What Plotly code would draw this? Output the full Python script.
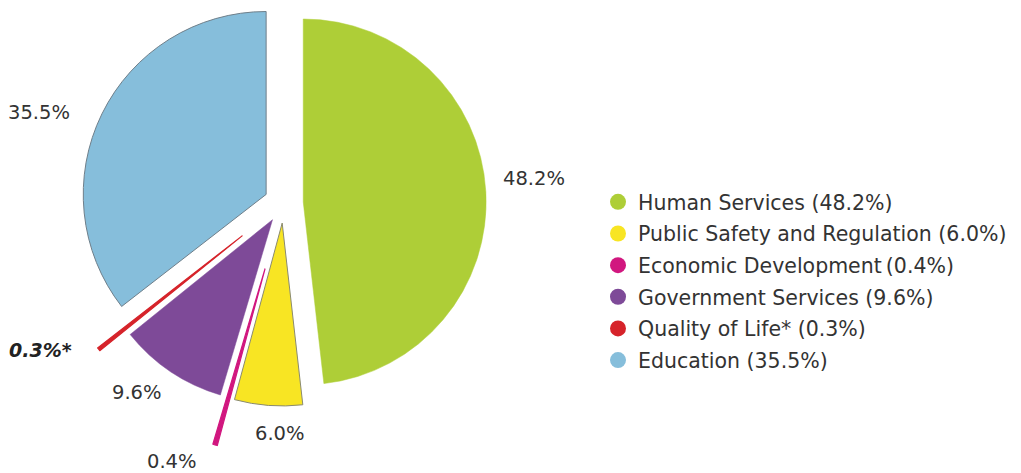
import math
import plotly.graph_objects as go

# ---- data ----
categories = ["Human Services", "Public Safety and Regulation", "Economic Development",
              "Government Services", "Quality of Life*", "Education"]
values = [48.2, 6.0, 0.4, 9.6, 0.3, 35.5]
colors = ["#AECE37", "#F8E523", "#D1177F", "#7E4A98", "#D6232A", "#86BEDB"]
legend_labels = ["Human Services (48.2%)", "Public Safety and Regulation (6.0%)",
                 "Economic Development\u2009(0.4%)", "Government Services (9.6%)",
                 "Quality of Life* (0.3%)", "Education (35.5%)"]

# ---- layout / style ----
W, H = 1021, 473
main_pull = [0.107, 0.11, 0.0, 0.11, 0.0, 0.107]
far_pull = {2: 0.375, 4: 0.29}          # slices drawn as their own far-pulled traces
edge_colors = ["#AECE37", "#8a8a70", "#D1177F", "#7E4A98", "#D6232A", "#6f7f8a"]
edge_widths = [0.5, 1, 0, 0.5, 0, 1]
cx, cy = 283.7, 203.0                   # pie centre (px)
box = 406.0                             # main pie box (px)
r = box / (2 * (1 + max(main_pull)))
TEXT = "#333333"
FONT = "DejaVu Sans, Open Sans, sans-serif"

def dom(xc, yc, size):
    return dict(x=[(xc - size / 2) / W, (xc + size / 2) / W],
                y=[1 - (yc + size / 2) / H, 1 - (yc - size / 2) / H])

total = sum(values)
mids = []
acc = 0
for v in values:
    mids.append((acc + v / 2) / total * 2 * math.pi)
    acc += v

fig = go.Figure()

main_colors = [c if i not in far_pull else "rgba(0,0,0,0)" for i, c in enumerate(colors)]
main_lw = [w if i not in far_pull else 0 for i, w in enumerate(edge_widths)]
fig.add_trace(go.Pie(
    labels=categories, values=values, sort=False, direction="clockwise", rotation=0,
    pull=main_pull, textinfo="none", showlegend=False, hoverinfo="label+percent",
    marker=dict(colors=main_colors, line=dict(color=edge_colors, width=main_lw)),
    domain=dom(cx, cy, box),
))

for i, p in far_pull.items():
    ox = cx + p * r * math.sin(mids[i])
    oy = cy - p * r * math.cos(mids[i])
    cols = [colors[j] if j == i else "rgba(0,0,0,0)" for j in range(len(values))]
    lws = [1.2 if j == i else 0 for j in range(len(values))]
    lcs = [colors[j] for j in range(len(values))]
    fig.add_trace(go.Pie(
        labels=categories, values=values, sort=False, direction="clockwise", rotation=0,
        textinfo="none", showlegend=False, hoverinfo="label+percent",
        marker=dict(colors=cols, line=dict(color=lcs, width=lws)),
        domain=dom(ox, oy, 2 * r),
    ))

# legend entries with round markers
for i, (lab, c) in enumerate(zip(legend_labels, colors)):
    fig.add_trace(go.Scatter(
        x=[None], y=[None], mode="markers", name=lab, legendgroup=str(i),
        marker=dict(symbol="circle", size=16, color=c),
    ))

# value labels
label_pos = [(534, 178), (280, 433), (172, 461), (137, 392), (40, 350), (39, 112)]
annotations = []
for i, (v, (px, py)) in enumerate(zip(values, label_pos)):
    txt = f"{v:.1f}%"
    if i == 4:
        txt = f"<b><i>{txt}*</i></b>"
    annotations.append(dict(
        x=px / W, y=1 - py / H, xref="paper", yref="paper", text=txt, showarrow=False,
        xanchor="center", yanchor="middle",
        font=dict(family=FONT, size=19.5 if i != 4 else 19, color=TEXT if i != 4 else "#222222"),
    ))

fig.update_layout(
    width=W, height=H, margin=dict(l=0, r=0, t=0, b=0),
    paper_bgcolor="white", plot_bgcolor="white",
    xaxis=dict(visible=False), yaxis=dict(visible=False),
    annotations=annotations,
    legend=dict(x=598 / W, y=1 - 281 / H, xanchor="left", yanchor="middle",
                font=dict(family=FONT, size=20.5, color=TEXT),
                tracegroupgap=2, traceorder="grouped", itemsizing="trace"),
    showlegend=True,
)

fig.write_html("out.html", config={"displayModeBar": False},
               post_script="document.body.style.margin='0px';")
